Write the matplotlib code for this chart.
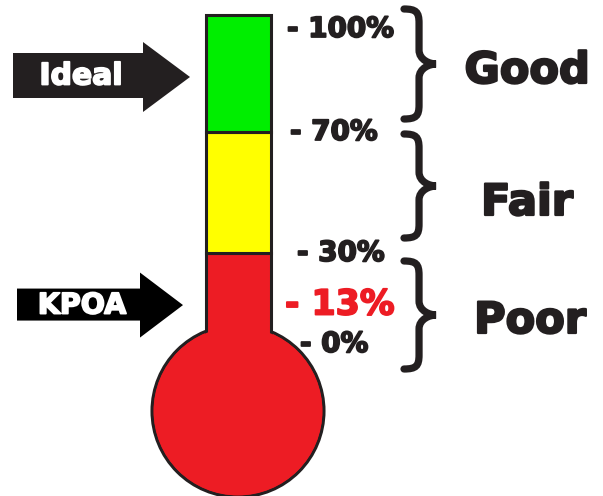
import numpy as np
import matplotlib
matplotlib.use("Agg")
import matplotlib.pyplot as plt
import matplotlib.patheffects as pe
from matplotlib.patches import Polygon, Circle, PathPatch
from matplotlib.path import Path

# ---------------- data ----------------
band_names = ["Poor", "Fair", "Good"]
band_low = [-10, 30, 70]          # poor band runs down into the bulb
band_high = [30, 70, 100]
band_colors = ["#ed1c24", "#ffff00", "#00ee00"]
tick_values = [100, 70, 30, 0]
tick_labels = ["- 100%", "- 70%", "- 30%", "- 0%"]
kpoa_value = 13
kpoa_label = "- 13%"
arrow_labels = ["Ideal", "KPOA"]

# ---------------- layout ----------------
W, H = 603, 496
DARK = "#231f20"
# piecewise-linear mapping percent -> pixel row (y down)
P_ANCH = np.array([-200.0, 0, 30, 70, 100, 300])
PX_ANCH = np.array([950.67, 344, 253, 132, 15, -765])


def fwd(p):
    return np.interp(p, P_ANCH, -PX_ANCH)


def inv(v):
    return np.interp(v, -PX_ANCH, P_ANCH)


def px(p):
    return float(np.interp(p, P_ANCH, PX_ANCH))


def heavy(col, w=1.3):
    return [pe.withStroke(linewidth=w, foreground=col)]


tube_x0, tube_x1 = 206, 271
tube_c, tube_w = (tube_x0 + tube_x1) / 2, tube_x1 - tube_x0
bulb_c, bulb_r = (238, 411), 86
tick_x = [287, 290, 297, 300]
kpoa_x = 285

fig = plt.figure(figsize=(W / 100, H / 100), dpi=100)
axp = fig.add_axes([0, 0, 1, 1])
axp.set_xlim(0, W)
axp.set_ylim(H, 0)
axp.axis("off")
ax = fig.add_axes([0, 0, 1, 1], zorder=2)
ax.patch.set_alpha(0)
ax.set_yscale("function", functions=(fwd, inv))
ax.set_xlim(0, W)
ax.set_ylim(inv(-H), inv(0))
ax.axis("off")
T = axp.transData

# bulb outline
ax.add_patch(Circle(bulb_c, bulb_r, transform=T, facecolor=band_colors[0],
                    edgecolor=DARK, lw=2.2, zorder=1))
# tube bands
for lo, hi, col, name in zip(band_low, band_high, band_colors, band_names):
    ax.bar(tube_c, hi - lo, bottom=lo, width=tube_w, color=col,
           edgecolor=DARK, lw=2.2, zorder=2)
# cover the tube's lower edges inside the bulb
ax.add_patch(Circle(bulb_c, bulb_r - 1.8, transform=T, facecolor=band_colors[0],
                    edgecolor="none", zorder=3))

# percent labels
for x, v, lab in zip(tick_x, tick_values, tick_labels):
    ax.text(x, v, lab, ha="left", va="top" if v == 100 else "center",
            fontsize=20, fontweight="bold", color=DARK,
            family="DejaVu Sans", zorder=5, path_effects=heavy(DARK))
ax.text(kpoa_x, kpoa_value, kpoa_label, ha="left", va="center",
        fontsize=25, fontweight="bold", color=band_colors[0],
        family="DejaVu Sans", zorder=5, path_effects=heavy(band_colors[0]))


# braces
def brace(x0, y0, y1, w):
    xm = x0 + w * 0.47
    ym = (y0 + y1) / 2
    k = 14
    verts = [(x0, y0),
             (xm - 3, y0), (xm, y0 + 3), (xm, y0 + k),
             (xm, ym - k),
             (xm, ym - 4), (x0 + w - 6, ym), (x0 + w, ym),
             (x0 + w - 6, ym), (xm, ym + 4), (xm, ym + k),
             (xm, y1 - k),
             (xm, y1 - 3), (xm - 3, y1), (x0, y1)]
    codes = [Path.MOVETO, Path.CURVE4, Path.CURVE4, Path.CURVE4, Path.LINETO,
             Path.CURVE4, Path.CURVE4, Path.CURVE4,
             Path.CURVE4, Path.CURVE4, Path.CURVE4, Path.LINETO,
             Path.CURVE4, Path.CURVE4, Path.CURVE4]
    ax.add_patch(PathPatch(Path(verts, codes), transform=T, facecolor="none",
                           edgecolor=DARK, lw=5.2, capstyle="round",
                           joinstyle="miter", zorder=4))


brace(404, 9, 119, 32)
brace(404, 134, 238, 32)
brace(404, 261, 369, 32)

word_pos = [(530, 333), (527, 215), (527, 83)]
for (x, y), name in zip(word_pos, band_names):
    ax.text(x, y, name, transform=T, ha="center", va="baseline",
            fontsize=31, fontweight="bold", color=DARK,
            family="DejaVu Sans", zorder=5, path_effects=heavy(DARK, 1.6))


# arrows
def arrow(xb0, xb1, yb0, yb1, xt, yh0, yh1, col):
    yc = (yh0 + yh1) / 2
    pts = [(xb0, yb0), (xb1, yb0), (xb1, yh0), (xt, yc), (xb1, yh1),
           (xb1, yb1), (xb0, yb1)]
    ax.add_patch(Polygon(pts, closed=True, transform=T, facecolor=col,
                         edgecolor="none", zorder=4))


arrow(13, 143, 53, 98, 190, 42, 112, DARK)
ky = px(kpoa_value)
arrow(17, 140, ky - 16, ky + 16, 183, ky - 32, ky + 33, "black")
ax.text(81, 76, arrow_labels[0], transform=T, ha="center", va="center",
        fontsize=21.5, fontweight="bold", color="white",
        family="DejaVu Sans", zorder=5, path_effects=heavy("white"))
ax.text(82, ky + 1, arrow_labels[1], transform=T, ha="center", va="center",
        fontsize=20.5, fontweight="bold", color="white",
        family="DejaVu Sans", zorder=5, path_effects=heavy("white"))

fig.savefig("out.png", dpi=100)
